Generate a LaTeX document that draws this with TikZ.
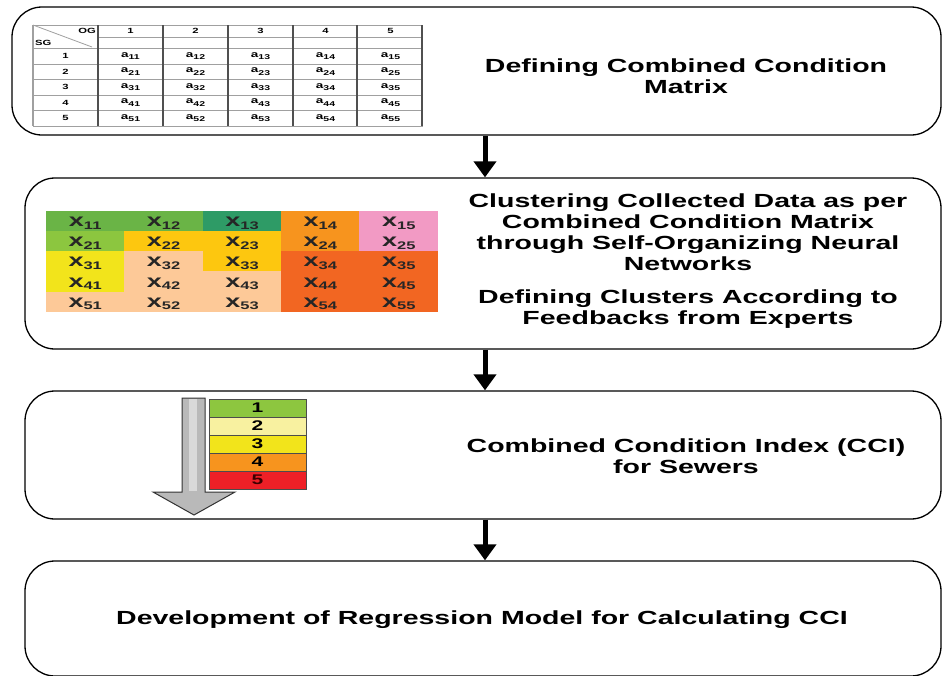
\documentclass[tikz,border=0pt]{standalone}
\usepackage{fontspec}
\setmainfont{Liberation Sans}
\newfontfamily\wide[FakeStretch=1.5]{Liberation Sans}
\usetikzlibrary{arrows.meta}
\definecolor{gA}{HTML}{6AB446}
\definecolor{gD}{HTML}{2E9B66}
\definecolor{orA}{HTML}{F7941E}
\definecolor{pk}{HTML}{F29AC4}
\definecolor{gL}{HTML}{8CC63F}
\definecolor{gold}{HTML}{FDC70F}
\definecolor{yel}{HTML}{F2E41B}
\definecolor{peach}{HTML}{FDC998}
\definecolor{orD}{HTML}{F26622}
\definecolor{cA}{HTML}{8DC63F}
\definecolor{cB}{HTML}{F8F1A0}
\definecolor{cC}{HTML}{F2E41B}
\definecolor{cD}{HTML}{F7941E}
\definecolor{cE}{HTML}{EE2027}
\definecolor{tabgray}{HTML}{A0A0A0}
\definecolor{tabdark}{HTML}{505050}
\begin{document}
\begin{tikzpicture}[x=1pt,y=-1pt,
  box/.style={draw=black,line width=1.3pt,rounded corners=30pt,inner sep=0pt},
  txt/.style={align=center,inner sep=0pt,font=\wide\bfseries\fontsize{19}{21}\selectfont},
  arr/.style={line width=5pt,-{Triangle[width=22pt,length=16pt]}},
  cell/.style={inner sep=0pt,minimum width=79pt,minimum height=20.6pt},
  xlab/.style={inner sep=0pt,font=\wide\bfseries\fontsize{18}{18}\selectfont,text=black!85},
  stk/.style={draw=black!70,line width=0.6pt,inner sep=0pt,minimum width=97pt,minimum height=18pt,font=\wide\bfseries\fontsize{14}{14}\selectfont},
  tnum/.style={inner sep=0pt,font=\wide\bfseries\fontsize{7.5}{7.5}\selectfont},
  tval/.style={inner sep=0pt,font=\wide\bfseries\fontsize{9}{9}\selectfont}
]
\useasboundingbox (0,0) rectangle (942,675);
\newcommand\xsub[1]{x\raisebox{-0.15em}{\fontsize{11}{11}\selectfont #1}}
\newcommand\asub[1]{a\raisebox{-0.3em}{\fontsize{7}{7}\selectfont #1}}

% boxes
\node[box,minimum width=929pt,minimum height=128pt] (b1) at (476.5,71) {};
\node[box,minimum width=916pt,minimum height=171pt] (b2) at (483,263.5) {};
\node[box,minimum width=916pt,minimum height=128pt] (b3) at (483,455) {};
\node[box,minimum width=916pt,minimum height=115pt] (b4) at (483,618.5) {};

% connectors
\coordinate (xa) at (485,0);
\draw[arr] (b1.south -| xa) -- (b2.north -| xa);
\draw[arr] (b2.south -| xa) -- (b3.north -| xa);
\draw[arr] (b3.south -| xa) -- (b4.north -| xa);

% texts
\node[txt] (t1) at (686,76) {Defining Combined Condition\\Matrix};
\node[txt] (t2a) at (688,232) {Clustering Collected Data as per\\Combined Condition Matrix\\through Self-Organizing Neural\\Networks};
\node[txt] (t2b) at (688,309) {Defining Clusters According to\\Feedbacks from Experts};
\node[txt] (t3) at (686,456) {Combined Condition Index (CCI)\\for Sewers};
\node[txt] (t4) at (482,620) {Development of Regression Model for Calculating CCI};

% ---- table in box 1
\fill[white] (33,25) rectangle (422,126);
\foreach \yy in {37,48,64,79,95,110}{
  \draw[tabgray,line width=0.8pt] (33,\yy) -- (422,\yy);
}
\fill[white] (34,26) rectangle (97.5,47.5);
\draw[tabgray,line width=0.8pt] (33,25) rectangle (422,126);
\draw[tabgray,line width=0.8pt] (33,25) -- (92,47);
\foreach \xx in {98,163,228,293,357,422}{
  \draw[tabdark,line width=1.3pt] (\xx,25) -- (\xx,126);
}
\draw[tabgray,line width=1.5pt] (33,25) -- (33,126);
\node[tnum,anchor=east] (og) at (96,30.5) {OG};
\node[tnum,anchor=west] (sg) at (35,42.5) {SG};
\foreach \c in {1,...,5}{
  \node[tnum] (h\c) at ({130.5+65*(\c-1)},31) {\c};
}
\foreach \r/\yy in {1/56,2/71.5,3/87,4/102.5,5/118}{
  \node[tnum] (r\r) at (65.5,\yy) {\r};
  \foreach \c in {1,...,5}{
    \node[tval] (a\r\c) at ({130.5+65*(\c-1)},\yy) {\asub{\r\c}};
  }
}

% ---- colored cluster grid in box 2
\foreach \r/\c/\col in {1/1/gA,1/2/gA,1/3/gD,1/4/orA,1/5/pk,
  2/1/gL,2/2/gold,2/3/gold,2/4/orA,2/5/pk,
  3/1/yel,3/2/peach,3/3/gold,3/4/orD,3/5/orD,
  4/1/yel,4/2/peach,4/3/peach,4/4/orD,4/5/orD,
  5/1/peach,5/2/peach,5/3/peach,5/4/orD,5/5/orD}{
  \node[cell,fill=\col] (x\r\c) at ({46+78.4*(\c-0.5)},{211+20.2*(\r-0.5)}) {};
}
\foreach \r in {1,...,5}{
  \foreach \c in {1,...,5}{
    \node[xlab] (xl\r\c) at ({46+78.4*(\c-0.5)},{211+20.2*(\r-0.5)+2}) {\xsub{\r\c}};
  }
}

% ---- CCI scale in box 3
\draw[draw=black!80,line width=1pt,fill=gray!55] (182,398) -- (205,398) -- (205,492) -- (235,492) -- (194,515) -- (153,492) -- (182,492) -- cycle;
\fill[gray!30] (189,399) rectangle (197,491);
\foreach \i/\col/\tc in {1/cA/black,2/cB/black,3/cC/black,4/cD/black,5/cE/black!60!red!60!black}{
  \node[stk,fill=\col,text=\tc] (s\i) at (257.5,{399+18*(\i-0.5)}) {\i};
}
\end{tikzpicture}
\end{document}
